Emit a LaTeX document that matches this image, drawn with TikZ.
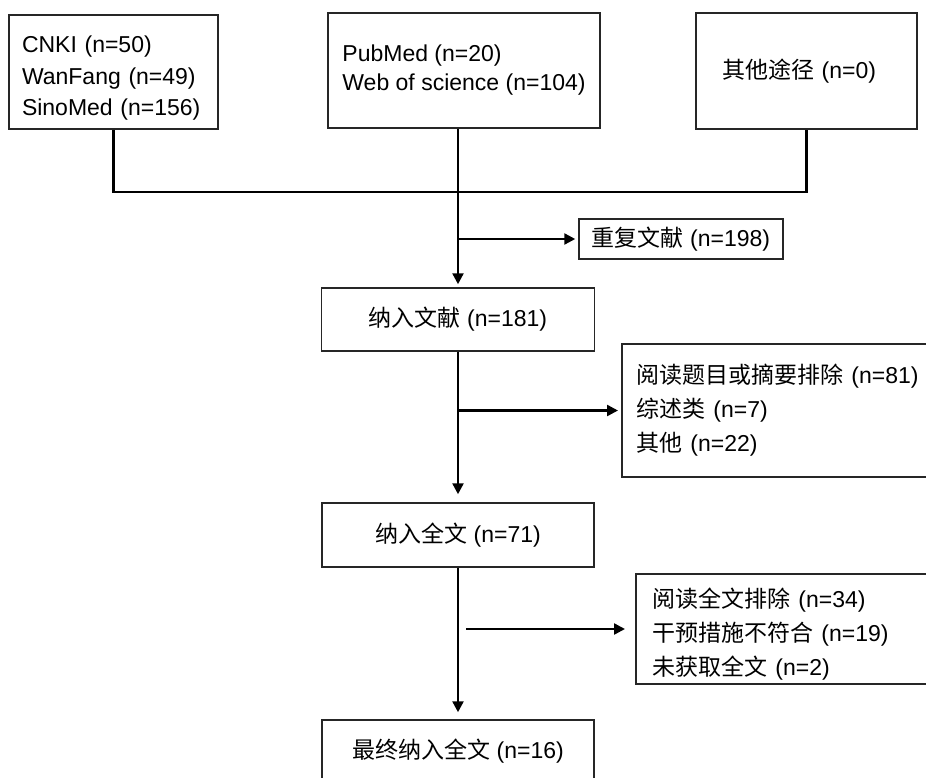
\documentclass[tikz,border=0pt]{standalone}
\usepackage{fontspec}
\setmainfont{Liberation Sans}
\newfontfamily\zhfont{Noto Sans CJK SC}
\newcommand{\zh}[1]{{\zhfont #1}}
\newcommand{\lift}[1]{\rule{0pt}{#1}}
\usepackage{tikz}
\usetikzlibrary{arrows.meta, positioning, calc}
\tikzset{
	box/.style = {draw = black!85, line width = 1.5pt, align = left, inner ysep = 0pt, font = \fontsize{23pt}{34pt}\selectfont},
	flow/.style = {line width = 2.4pt, -{Triangle[length = 11pt, width = 11pt]}},
	link/.style = {line width = 2.4pt}
}

\begin{document}
\begin{tikzpicture}[x = 1pt, y = -1pt]
	\clip (0, 0) rectangle (926, 777);
	\fill[white] (0, 0) rectangle (926, 777);
	\node[box, font = \fontsize{23pt}{31.5pt}\selectfont, inner xsep = 13pt, text width = 183pt, minimum height = 114pt] at (113.5, 72) (cnki) {\lift{29pt}CNKI (n=50)\\WanFang (n=49)\\SinoMed (n=156)};
	\node[box, font = \fontsize{23pt}{29pt}\selectfont, minimum width = 272pt, minimum height = 115pt] at (464, 70.5) (pubmed) {PubMed (n=20)\\Web of science (n=104)};
	\node[box, inner xsep = 26pt, text width = 169pt, minimum height = 116pt] at (806.5, 71) (other) {\zh{其他途径} (n=0)};
	\node[box, align = center, minimum width = 204pt, minimum height = 40pt] at (681, 239) (dup) {\zh{重复文献} (n=198)};
	\node[box, align = center, minimum width = 273pt, minimum height = 63pt] at (458, 319.5) (screen) {\zh{纳入文献} (n=181)};
	\node[box, anchor = west, inner xsep = 15pt, text width = 360pt, minimum height = 133pt] at (621, 410.5) (excla) {\zh{阅读题目或摘要排除} (n=81)\\\zh{综述类} (n=7)\\\zh{其他} (n=22)};
	\node[box, align = center, minimum width = 272pt, minimum height = 64pt] at (458, 535) (full) {\zh{纳入全文} (n=71)};
	\node[box, anchor = west, inner xsep = 17pt, text width = 340pt, minimum height = 110pt] at (635, 629) (exclb) {\lift{29pt}\zh{阅读全文排除} (n=34)\\\zh{干预措施不符合} (n=19)\\\zh{未获取全文} (n=2)};
	\node[box, align = center, minimum width = 272pt, minimum height = 63pt] at (458, 751.5) (final) {\zh{最终纳入全文} (n=16)};
	\coordinate (joinl) at (cnki.south |- 0, 192);
	\coordinate (joinr) at (other.south |- 0, 192);
	\draw[link] (cnki.south) -- (joinl) -- (joinr) -- (other.south);
	\draw[flow, shorten >= 3pt] (screen.north |- pubmed.south) -- (screen.north);
	\draw[flow, shorten >= 3pt] (screen.north |- dup.west) -- (dup.west);
	\draw[flow, shorten >= 8pt] (screen.south) -- (full.north);
	\draw[flow, shorten >= 3pt] (screen.south |- excla.west) -- (excla.west);
	\draw[flow, shorten >= 7pt] (full.south) -- (final.north);
	\draw[flow, shorten >= 10pt] ($(full.south |- exclb.west) + (8, 0)$) -- (exclb.west);
\end{tikzpicture}
\end{document}
